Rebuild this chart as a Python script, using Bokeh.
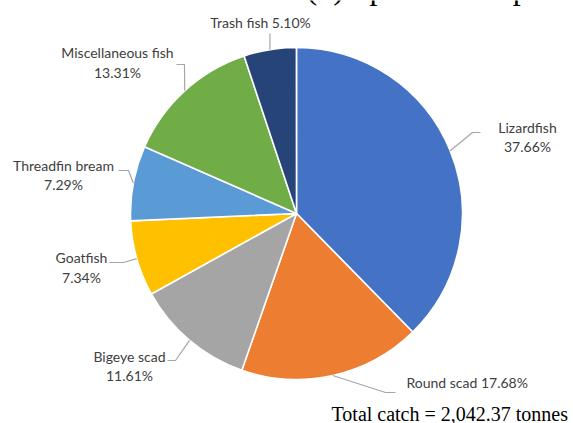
import numpy as np
from bokeh.plotting import figure
from bokeh.models import Range1d
from bokeh.core.properties import value
from bokeh.embed import file_html
from bokeh.resources import INLINE

# ---- data ----
species = ["Lizardfish", "Round scad", "Bigeye scad", "Goatfish",
           "Threadfin bream", "Miscellaneous fish", "Trash fish"]
percent = [37.66, 17.68, 11.61, 7.34, 7.29, 13.31, 5.10]
colors = ["#4472C4", "#ED7D31", "#A5A5A5", "#FFC000",
          "#5B9BD5", "#70AD47", "#264478"]
total_text = "Total catch = 2,042.37 tonnes"
title_text = "(b) Species composition"

# ---- layout (pixel coords, y measured from top) ----
W, H = 573, 423
CX, CY, R = 296.0, 213.0, 166.0
# label layout: (lines mode, anchor x, [y of each line], align, elbow points)
label_layout = {
    "Lizardfish":         ("two", 527, [127, 146], "center", [(472, 132), (480, 132)]),
    "Round scad":         ("one", 406, [381.5], "left", [(385, 392), (395, 392)]),
    "Bigeye scad":        ("two", 129, [355.5, 375], "center", [(175, 360), (167, 360)]),
    "Goatfish":           ("two", 81, [257, 276.5], "center", [(123, 262), (109, 262)]),
    "Threadfin bream":    ("two", 63, [165, 184], "center", [(128, 170), (118, 170)]),
    "Miscellaneous fish": ("two", 117, [51.5, 71.5], "center", [(184, 64), (176, 64)]),
    "Trash fish":         ("one", 260, [22], "center", [(269.5, 33)]),
}

def Y(y):
    return H - y

p = figure(width=W, height=H, x_range=Range1d(0, W), y_range=Range1d(0, H),
           x_axis_type=None, y_axis_type=None, toolbar_location=None,
           output_backend="svg", min_border=0, outline_line_color=None,
           background_fill_color="white", border_fill_color="white")

frac = np.array(percent) / 100.0
cum = np.concatenate([[0.0], np.cumsum(frac)])
start = np.pi / 2 - 2 * np.pi * cum[:-1]
end = np.pi / 2 - 2 * np.pi * cum[1:]

p.wedge(x=[CX] * len(species), y=[Y(CY)] * len(species), radius=R,
        start_angle=list(start), end_angle=list(end), direction="clock",
        fill_color=colors, line_color="white", line_width=1.6)

label_font = value("Lato")
txt_color = "#404040"
for i, name in enumerate(species):
    mode, ax, ys, align, elbow = label_layout[name]
    mid = 2 * np.pi * (cum[i] + cum[i + 1]) / 2
    px = CX + R * np.sin(mid)
    py = CY - R * np.cos(mid)
    xs = [px] + [e[0] for e in elbow]
    yy = [Y(py)] + [Y(e[1]) for e in elbow]
    p.line(xs, yy, line_color="#A6A6A6", line_width=1.2)
    pct = f"{percent[i]:.2f}%"
    if mode == "two":
        texts = [name, pct]
    else:
        texts = [f"{name} {pct}"]
    p.text(x=[ax] * len(texts), y=[Y(v) for v in ys], text=texts,
           text_font=label_font, text_font_size="14px", text_color=txt_color,
           text_align=align, text_baseline="middle")

p.text(x=[331], y=[Y(413)], text=[total_text], text_font=value("Liberation Serif"),
       text_font_size="20px", text_color="black", text_align="left",
       text_baseline="alphabetic")
p.text(x=[306], y=[Y(-13)], text=[title_text], text_font=value("Liberation Serif"),
       text_font_size="32px", text_color="black", text_align="left",
       text_baseline="alphabetic")

open("out.html", "w").write(file_html(p, INLINE))
